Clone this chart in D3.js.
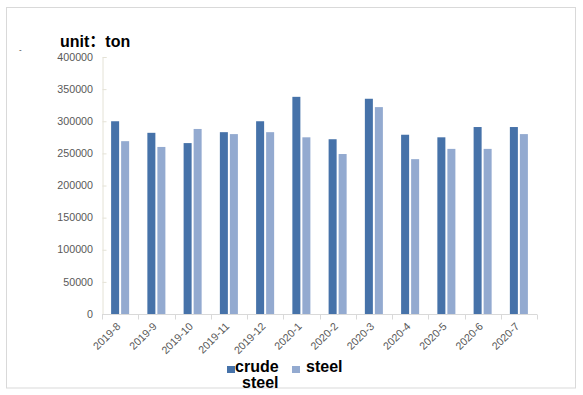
<!DOCTYPE html>
<html>
<head>
<meta charset="utf-8">
<script src="https://cdn.jsdelivr.net/npm/d3@7"></script>
<style>
  html, body { margin: 0; padding: 0; background: #fff; }
  svg { display: block; }
  text { font-family: "Liberation Sans", Arial, sans-serif; }
</style>
</head>
<body>
<svg id="chart" width="583" height="395"></svg>
<script>
const categories = ["2019-8","2019-9","2019-10","2019-11","2019-12","2020-1","2020-2","2020-3","2020-4","2020-5","2020-6","2020-7"];
const crudeSteel = [300000, 282000, 266000, 283000, 300000, 338000, 272000, 335000, 279000, 275000, 291000, 291000];
const steel = [269000, 260000, 288000, 280000, 283000, 275000, 249000, 322000, 241000, 257000, 257000, 280000];
const yTicks = [0, 50000, 100000, 150000, 200000, 250000, 300000, 350000, 400000];
const seriesNames = ["crude steel", "steel"];
const colors = ["#4672a9", "#93aad0"];

const svg = d3.select("#chart");

// outer border
svg.append("rect").attr("x", 6.5).attr("y", 7.5).attr("width", 569).attr("height", 380.5)
  .attr("fill", "none").attr("stroke", "#d9d9d9").attr("stroke-width", 1);

// tiny mark
svg.append("text").attr("x", 19).attr("y", 52).attr("font-size", 8).attr("fill", "#333").text("-");

// title
const title = svg.append("text").attr("x", 60).attr("y", 47).attr("font-size", 16).attr("font-weight", "bold")
  .attr("fill", "#000");
title.append("tspan").text("unit");
title.append("tspan").attr("font-family", "'Noto Sans CJK SC', sans-serif").text("：");
title.append("tspan").text("ton");

const pLeft = 102, pRight = 537, pTop = 57, pBottom = 314;
const x = d3.scaleBand().domain(categories).range([pLeft, pRight]).paddingInner(0).paddingOuter(0);
const y = d3.scaleLinear().domain([0, 400000]).range([pBottom, pTop]);

// y axis
const yAxis = svg.append("g").attr("transform", `translate(${pLeft + 0.5},0)`)
  .call(d3.axisRight(y).tickValues(yTicks).tickSize(4).tickFormat(""));
yAxis.select(".domain").attr("stroke", "#e4e2d6");
yAxis.selectAll(".tick line").attr("stroke", "#e4e2d6");

svg.append("g").selectAll("text").data(yTicks).join("text")
  .attr("x", 93).attr("y", d => y(d)).attr("dy", "0.35em")
  .attr("text-anchor", "end").attr("font-size", 10.7).attr("fill", "#595959")
  .text(d => d);

// bars
const sub = d3.scaleBand().domain([0, 1]).range([0, x.bandwidth()]).paddingInner(0.2).paddingOuter(0.91);
const groups = svg.append("g").selectAll("g").data(categories).join("g")
  .attr("transform", d => `translate(${x(d)},0)`);
groups.selectAll("rect").data((d, i) => [crudeSteel[i], steel[i]]).join("rect")
  .attr("x", (d, j) => sub(j))
  .attr("y", d => y(d))
  .attr("width", sub.bandwidth())
  .attr("height", d => y(0) - y(d))
  .attr("fill", (d, j) => colors[j]);

// x axis
const xAxisG = svg.append("g").attr("transform", `translate(0,${pBottom + 0.5})`);
xAxisG.append("line").attr("x1", pLeft).attr("x2", pRight).attr("stroke", "#d9d9d9");
const bounds = categories.map(c => x(c)).concat([pRight]);
xAxisG.selectAll("line.tk").data(bounds).join("line").attr("class", "tk")
  .attr("x1", d => Math.round(d) + 0.5).attr("x2", d => Math.round(d) + 0.5)
  .attr("y1", 0).attr("y2", 5).attr("stroke", "#d9d9d9");

svg.append("g").selectAll("text").data(categories).join("text")
  .attr("transform", d => `translate(${x(d) + x.bandwidth() / 2 + 1},${pBottom + 13}) rotate(-45)`)
  .attr("text-anchor", "end").attr("font-size", 10.7).attr("fill", "#595959")
  .text(d => d);

// legend
const leg = svg.append("g");
leg.append("rect").attr("x", 227).attr("y", 366).attr("width", 8).attr("height", 7).attr("fill", colors[0]);
leg.append("text").attr("x", 235).attr("y", 372).attr("font-size", 16).attr("font-weight", "bold").attr("fill", "#000")
  .text(seriesNames[0].split(" ")[0]);
leg.append("text").attr("x", 242).attr("y", 388).attr("font-size", 16).attr("font-weight", "bold").attr("fill", "#000")
  .text(seriesNames[0].split(" ")[1]);
leg.append("rect").attr("x", 292).attr("y", 366).attr("width", 8).attr("height", 7).attr("fill", colors[1]);
leg.append("text").attr("x", 306).attr("y", 372).attr("font-size", 16).attr("font-weight", "bold").attr("fill", "#000")
  .text(seriesNames[1]);
</script>
</body>
</html>
